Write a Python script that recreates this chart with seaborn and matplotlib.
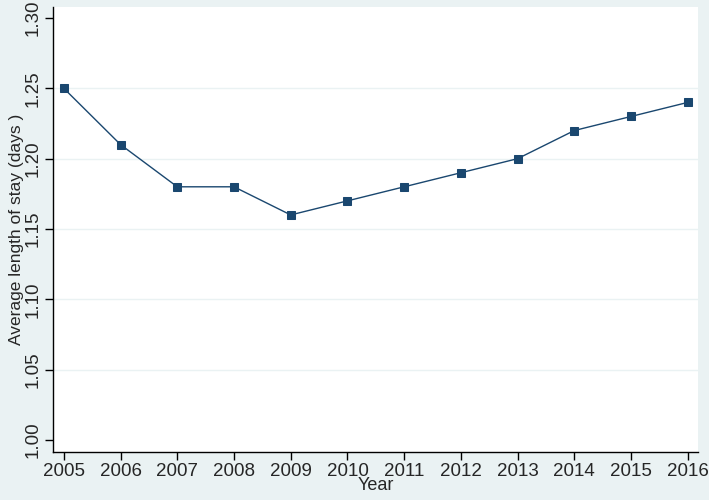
import matplotlib
matplotlib.use("Agg")
import matplotlib.pyplot as plt
import seaborn as sns
import pandas as pd

years = [2005, 2006, 2007, 2008, 2009, 2010, 2011, 2012, 2013, 2014, 2015, 2016]
avg_stay = [1.25, 1.21, 1.18, 1.18, 1.16, 1.17, 1.18, 1.19, 1.20, 1.22, 1.23, 1.24]
y_ticks = [1.00, 1.05, 1.10, 1.15, 1.20, 1.25, 1.30]
y_tick_labels = ["1.00", "1.05", "1.10", "1.15", "1.20", "1.25", "1.30"]

sns.set_theme(style="white")
plt.rcParams['font.family'] = ['Liberation Sans', 'DejaVu Sans']

df = pd.DataFrame({"Year": years, "Stay": avg_stay})

bg = "#eaf2f3"
fig = plt.figure(figsize=(7.09, 5.0), dpi=100, facecolor=bg)
ax = fig.add_axes([0.0748, 0.096, 0.9097, 0.89])
ax.set_facecolor("white")

for t in y_ticks[1:-1]:
    ax.axhline(t, color=bg, lw=1.0, zorder=0)

sns.lineplot(data=df, x="Year", y="Stay", ax=ax, color="#1a476f", lw=1.0,
             marker="s", markersize=5.5, markeredgecolor="#1a476f")

ax.set_xlim(2004.81, 2016.18)
ax.set_ylim(0.9915, 1.3078)
ax.set_xticks(years)
ax.set_xticklabels([str(y) for y in years], fontsize=13.5)
ax.set_yticks(y_ticks)
ax.set_yticklabels(y_tick_labels, fontsize=13.5, rotation=90, va="center")
ax.tick_params(axis="both", direction="out", length=6, width=1, color="black",
               left=True, bottom=True, pad=2)
ax.set_xlabel("Year", fontsize=13, labelpad=-2)
ax.set_ylabel("Average length of stay (days )", fontsize=12.5, labelpad=1)
for s in ["top", "right"]:
    ax.spines[s].set_visible(False)
for s in ["left", "bottom"]:
    ax.spines[s].set_color("black")
    ax.spines[s].set_linewidth(1.0)

fig.savefig("out.png", dpi=100, facecolor=bg)
